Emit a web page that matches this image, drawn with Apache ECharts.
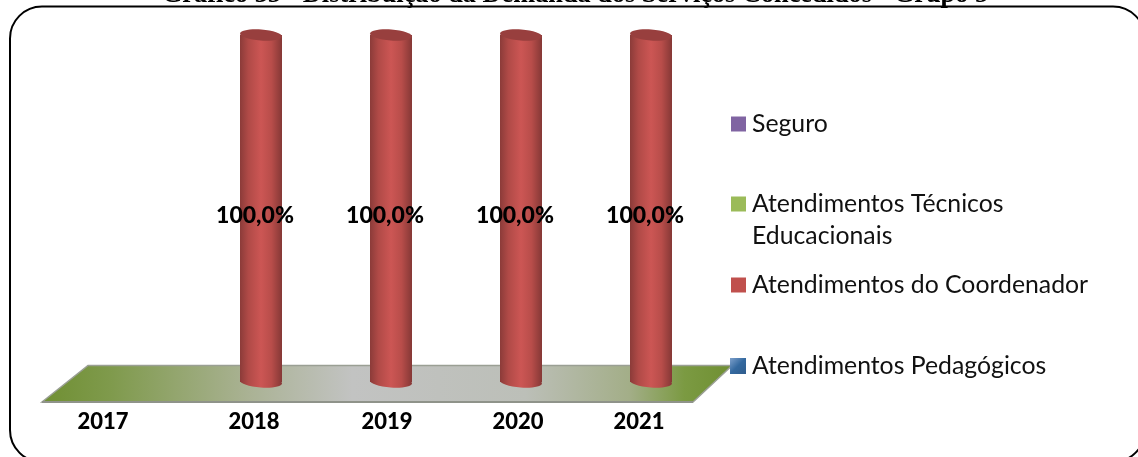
<!DOCTYPE html>
<html>
<head>
<meta charset="utf-8">
<style>html,body{margin:0;padding:0;background:#fff;overflow:hidden}#c{width:1138px;height:457px}</style>
<script src="https://cdn.jsdelivr.net/npm/echarts@6/dist/echarts.min.js"></script>
</head>
<body>
<div id="c"></div>
<script>
const titleText = 'Gráfico 35 - Distribuição da Demanda dos Serviços Concedidos - Grupo 5';
const years = ['2017', '2018', '2019', '2020', '2021'];
const seguro = [0, 0, 0, 0, 0];
const tecnicos = [0, 0, 0, 0, 0];
const coordenador = [0, 100, 100, 100, 100];
const pedagogicos = [0, 0, 0, 0, 0];
const seriesNames = ['Seguro', 'Atendimentos Técnicos\nEducacionais', 'Atendimentos do Coordenador', 'Atendimentos Pedagógicos'];
const seriesColors = ['#8064a2', '#9bbb59', '#c0504d', '#4f81bd'];

const labelShiftLeft = [28, 7, 4, 3, 12];
const FONT = 'Lato';
const chart = echarts.init(document.getElementById('c'), null, {renderer: 'canvas'});

function cylinder(params, api) {
  const value = api.value(1);
  if (!value) return null;
  const cat = api.value(0);
  const top = api.coord([cat, value]);
  const base = api.coord([cat, 0]);
  const rx = 21, ry = 5.5, tilt = -0.07;
  const body = new echarts.graphic.LinearGradient(0, 0, 1, 0, [
    {offset: 0, color: '#8b3b39'},
    {offset: 0.2, color: '#b04a47'},
    {offset: 0.5, color: '#cc5654'},
    {offset: 0.75, color: '#b84d4a'},
    {offset: 1, color: '#853836'}
  ]);
  const ell = (cy, fill) => ({
    type: 'ellipse',
    x: top[0], y: cy, rotation: tilt, originX: 0, originY: 0,
    shape: {cx: 0, cy: 0, rx: rx, ry: ry},
    style: {fill: fill}
  });
  return {
    type: 'group',
    children: [
      ell(base[1], body),
      {type: 'rect', shape: {x: top[0] - rx, y: top[1], width: rx * 2, height: base[1] - top[1]}, style: {fill: body}},
      ell(top[1], '#983f3e'),
      {type: 'text', x: top[0] - 6, y: api.coord([cat, 50])[1] + 7,
        style: {text: value.toFixed(1).replace('.', ',') + '%', fill: '#000', fontFamily: FONT, fontWeight: 900, fontSize: 23, align: 'center', verticalAlign: 'middle'}}
    ]
  };
}

const values = [seguro, tecnicos, coordenador, pedagogicos];
const legendTops = [108, 188, 269, 350];
const squareIcon = 'path://M0 0H15V15H0Z';
const tallIcon = 'path://M0 0H15V15H0Z M0 47H0';

const rich = {};
labelShiftLeft.forEach((s, i) => {
  rich['c' + i] = {padding: [0, s * 2, 0, 0], fontFamily: FONT, fontWeight: 900, fontSize: 22, color: '#000'};
});

const bevel = new echarts.graphic.LinearGradient(0, 0, 1, 1, [
  {offset: 0, color: '#7da0cc'},
  {offset: 0.5, color: '#34699f'},
  {offset: 1, color: '#2f5c8c'}
]);

chart.setOption({
  animation: false,
  backgroundColor: '#fff',
  title: {
    text: titleText, left: 575, textAlign: 'center', top: -18, padding: 0,
    textStyle: {fontFamily: 'Liberation Serif', fontWeight: 'bold', fontSize: 26.3, color: '#000'}
  },
  grid: {left: 66, right: 422, top: 35, bottom: 75},
  xAxis: {
    type: 'category', data: years,
    axisLine: {show: false}, axisTick: {show: false},
    axisLabel: {
      interval: 0, margin: 29,
      formatter: (v, i) => '{c' + i + '|' + v + '}',
      rich: rich
    }
  },
  yAxis: {type: 'value', min: 0, max: 100, show: false, splitLine: {show: false}},
  legend: seriesNames.map((n, i) => ({
    data: [i === 3
      ? {name: n, icon: squareIcon, itemStyle: {color: bevel}}
      : {name: n, icon: i === 1 ? tallIcon : squareIcon}],
    orient: 'vertical', left: i === 3 ? 730 : 731, top: legendTops[i], padding: 0,
    itemWidth: i === 3 ? 16 : 15, itemHeight: i === 1 ? 47 : (i === 3 ? 16 : 15), itemGap: 0,
    selectedMode: false,
    textStyle: {fontFamily: FONT, fontSize: 24.8, color: '#111', padding: [0, 0, 0, 1], lineHeight: 32}
  })),
  graphic: [
    {
      type: 'polygon', z: 0,
      shape: {points: [[42, 402], [88, 365.5], [732, 365.5], [693, 402]]},
      style: {
        fill: new echarts.graphic.LinearGradient(0, 0, 1, 0, [
          {offset: 0, color: '#6f8f32'},
          {offset: 0.1, color: '#7f9a4c'},
          {offset: 0.3, color: '#aab294'},
          {offset: 0.45, color: '#c2c3c2'},
          {offset: 0.7, color: '#bcbfb8'},
          {offset: 0.85, color: '#a3ae88'},
          {offset: 0.93, color: '#7b9a42'},
          {offset: 1, color: '#6f8f32'}
        ]),
        stroke: '#9a9f94', lineWidth: 1.5
      }
    },
    {
      type: 'rect', z: 0,
      shape: {x: 42, y: 401, width: 651, height: 2},
      style: {fill: '#8f938a'}
    },
    {
      type: 'rect', z: 10,
      shape: {x: 10, y: 6.5, width: 1135, height: 455.5, r: 32},
      style: {fill: 'none', stroke: '#000', lineWidth: 2}
    }
  ],
  series: seriesNames.map((n, i) => ({
    name: n, type: 'custom', z: 3,
    coordinateSystem: 'cartesian2d',
    itemStyle: {color: seriesColors[i]},
    encode: {x: 0, y: 1},
    renderItem: cylinder,
    data: years.map((y, j) => [j, values[i][j]])
  }))
});
</script>
</body>
</html>
